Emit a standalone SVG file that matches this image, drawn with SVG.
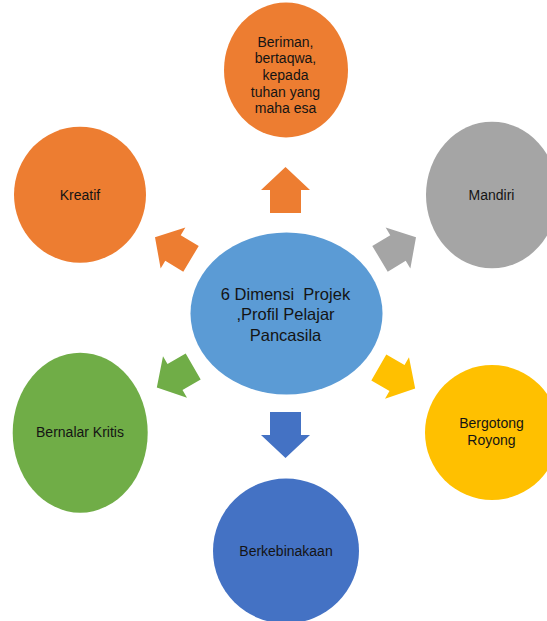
<svg xmlns="http://www.w3.org/2000/svg" width="547" height="621" viewBox="0 0 547 621">
<style>
text{font-family:"Liberation Sans",Arial,sans-serif;fill:#141414;text-anchor:middle;white-space:pre}
.s{font-size:14px}
.c{font-size:16.5px}
</style>
<defs>
<path id="av" d="M0,-23 L24.5,0 L15.5,0 L15.5,23 L-15.5,23 L-15.5,0 L-24.5,0 Z"/>
<path id="ad" d="M0,-21 L24,0 L15,0 L15,21 L-15,21 L-15,0 L-24,0 Z"/>
</defs>
<rect width="547" height="621" fill="#ffffff"/>
<g id="connectors">
<use href="#av" transform="translate(285.5,190)" fill="#ED7D31"/>
<use href="#av" transform="translate(285.5,435) rotate(180)" fill="#4472C4"/>
<use href="#ad" transform="translate(173,248) rotate(-59)" fill="#ED7D31"/>
<use href="#ad" transform="translate(398,248) rotate(59)" fill="#A5A5A5"/>
<use href="#ad" transform="translate(175,377) rotate(-120)" fill="#70AD47"/>
<use href="#ad" transform="translate(397,378) rotate(120)" fill="#FFC000"/>
</g>
<g id="center">
<ellipse cx="286.5" cy="313.5" rx="96" ry="81" fill="#5B9BD5"/>
<text class="c" x="285.5" y="299.5">6 Dimensi  Projek</text>
<text class="c" x="285.5" y="320">,Profil Pelajar</text>
<text class="c" x="285.5" y="340.5">Pancasila</text>
</g>
<g id="beriman">
<ellipse cx="286" cy="70" rx="62" ry="67.5" fill="#ED7D31"/>
<text class="s" x="285.5" y="46.5">Beriman,</text>
<text class="s" x="285.5" y="63.2">bertaqwa,</text>
<text class="s" x="285.5" y="79.9">kepada</text>
<text class="s" x="285.5" y="96.6">tuhan yang</text>
<text class="s" x="285.5" y="113.3">maha esa</text>
</g>
<g id="kreatif">
<ellipse cx="80" cy="194.7" rx="66" ry="68" fill="#ED7D31"/>
<text class="s" x="80" y="199.5">Kreatif</text>
</g>
<g id="mandiri">
<ellipse cx="492" cy="195" rx="66" ry="73.3" fill="#A5A5A5"/>
<text class="s" x="491.5" y="199.5">Mandiri</text>
</g>
<g id="bernalar">
<ellipse cx="80.2" cy="432.7" rx="67.5" ry="80" fill="#70AD47"/>
<text class="s" x="80" y="437">Bernalar Kritis</text>
</g>
<g id="bergotong">
<ellipse cx="492" cy="432.5" rx="67" ry="67.5" fill="#FFC000"/>
<text class="s" x="491.5" y="427.5">Bergotong</text>
<text class="s" x="491.5" y="445">Royong</text>
</g>
<g id="berkebinakaan">
<ellipse cx="286" cy="551" rx="73" ry="72.5" fill="#4472C4"/>
<text class="s" x="286" y="556">Berkebinakaan</text>
</g>
</svg>
